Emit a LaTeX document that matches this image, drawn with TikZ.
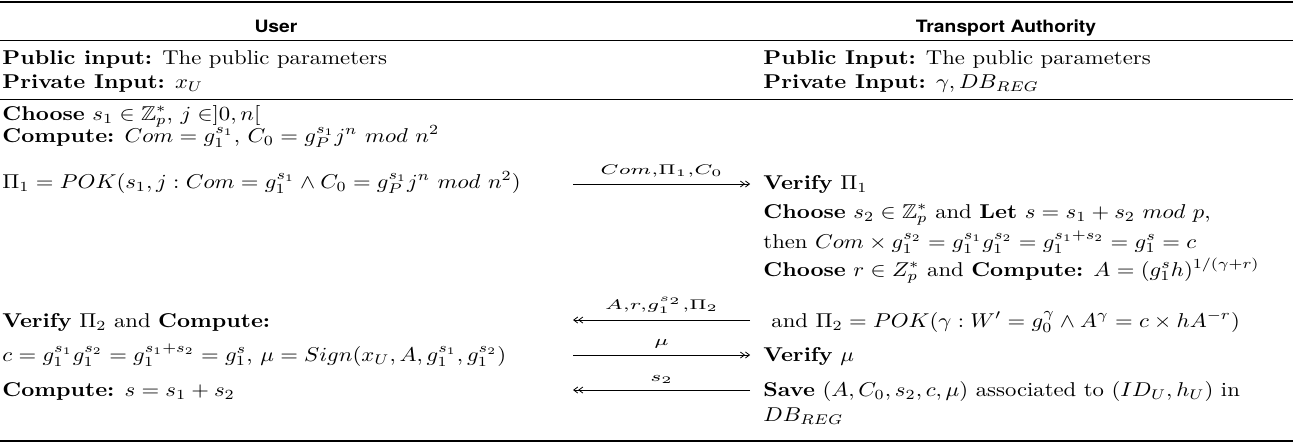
\documentclass[tikz,border=0pt]{standalone}
\usepackage{amsmath,amssymb}
\usepackage{fontspec}
\usepackage{tikz}
\usetikzlibrary{arrows.meta}
\newfontfamily\headfont{TeX Gyre Heros}

\tikzset{
  txt/.style={anchor=base west,inner sep=0pt},
  colhead/.style={anchor=base,inner sep=0pt,font=\headfont\bfseries\fontsize{8.5}{10}\selectfont},
  msg/.style={-{Straight Barb[length=2pt,width=3pt]Straight Barb[length=2pt,width=3pt]},line width=0.4pt},
  msglabel/.style={above,inner sep=3pt},
  thickrule/.style={line width=1.4pt},
  thinrule/.style={line width=0.5pt}
}
\newcommand{\msgtext}[1]{\scalebox{1.3}[1]{$\scriptstyle #1$}}

\begin{document}
\begin{tikzpicture}[x=0.4405pt,y=-0.5pt,xscale=1.135,transform shape]
\useasboundingbox (0,0) rectangle (1293,443);

% rules
\draw[thickrule] (0,2) -- (1293,2);
\draw[thinrule] (0,41) -- (1293,41);
\draw[thinrule] (0,99) -- (1293,99);
\draw[thickrule] (0,441) -- (1293,441);

% column heads
\node[colhead] (user) at (276,33) {User};
\node[colhead] (ta) at (1006,33) {Transport Authority};

% user side
\node[txt] (pubU) at (2,64) {\textbf{Public input:} The public parameters};
\node[txt] (privU) at (2,88) {\textbf{Private Input:} $x_U$};
\node[txt] (chooseU) at (2,120) {\textbf{Choose} $s_1\in\mathbb{Z}_p^*$, $j\in ]0,n[$};
\node[txt] (compU) at (2,142) {\textbf{Compute:} $Com=g_1^{s_1}$, $C_0=g_P^{s_1}j^n~mod~n^2$};
\node[txt] (pokU) at (2,188) {$\Pi_1=POK(s_1,j:Com=g_1^{s_1}\wedge C_0=g_P^{s_1}j^n~mod~n^2)$};
\node[txt] (verU) at (2,327) {\textbf{Verify} $\Pi_2$ and \textbf{Compute:}};
\node[txt] (sigU) at (2,361) {$c=g_1^{s_1}g_1^{s_2}=g_1^{s_1+s_2}=g_1^s$, $\mu=Sign(x_U,A,g_1^{s_1},g_1^{s_2})$};
\node[txt] (sumU) at (2,396) {\textbf{Compute:} $s=s_1+s_2$};

% transport authority side
\node[txt] (pubT) at (763,64) {\textbf{Public Input:} The public parameters};
\node[txt] (privT) at (763,88) {\textbf{Private Input:} $\gamma,DB_{REG}$};
\node[txt] (verT) at (763,189) {\textbf{Verify} $\Pi_1$};
\node[txt] (chooseT) at (763,218) {\textbf{Choose} $s_2\in\mathbb{Z}_p^*$ and \textbf{Let} $s=s_1+s_2~mod~p$,};
\node[txt] (thenT) at (763,248) {then $Com\times g_1^{s_2}=g_1^{s_1}g_1^{s_2}=g_1^{s_1+s_2}=g_1^s=c$};
\node[txt] (rT) at (763,276) {\textbf{Choose} $r\in Z_p^*$ and \textbf{Compute:} $A=(g_1^sh)^{1/(\gamma+r)}$};
\node[txt] (andT) at (771,327) {and $\Pi_2=POK(\gamma:W'=g_0^\gamma\wedge A^\gamma=c\times hA^{-r})$};
\node[txt] (vmuT) at (763,361) {\textbf{Verify} $\mu$};
\node[txt] (saveT) at (763,396) {\textbf{Save} $(A,C_0,s_2,c,\mu)$ associated to $(ID_U,h_U)$ in};
\node[txt] (dbT) at (763,421) {$DB_{REG}$};

% messages
\coordinate (m1u) at (573,184);
\coordinate (m1t) at (750,184);
\coordinate (m2u) at (573,320);
\coordinate (m2t) at (750,320);
\coordinate (m3u) at (573,355);
\coordinate (m3t) at (750,355);
\coordinate (m4u) at (573,390);
\coordinate (m4t) at (750,390);
\draw[msg] (m1u) -- node[msglabel] {\msgtext{Com,\Pi_1,C_0}} (m1t);
\draw[msg] (m2t) -- node[msglabel] {\msgtext{A,r,g_1^{s_2},\Pi_2}} (m2u);
\draw[msg] (m3u) -- node[msglabel] {\msgtext{\mu}} (m3t);
\draw[msg] (m4t) -- node[msglabel] {\msgtext{s_2}} (m4u);
\end{tikzpicture}
\end{document}
